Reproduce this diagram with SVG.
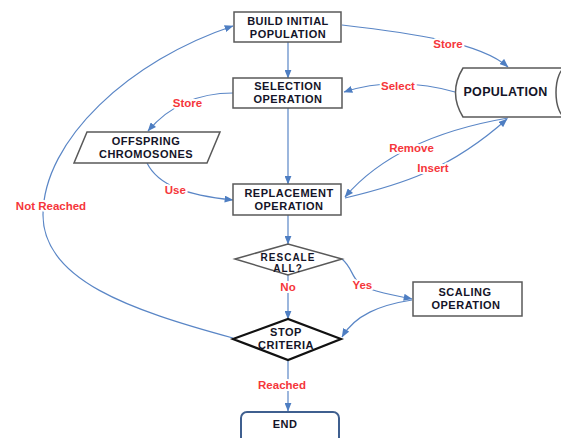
<svg xmlns="http://www.w3.org/2000/svg" width="561" height="438" viewBox="0 0 561 438">
<style>
.box{fill:#fff;stroke:#595959;stroke-width:1.5}
.t{font-family:"Liberation Sans",Arial,sans-serif;font-weight:bold;font-size:11px;letter-spacing:0.5px;fill:#141428;text-anchor:middle}
.c{fill:none;stroke:#5A86C6;stroke-width:1.2}
.lbl{font-family:"Liberation Sans",Arial,sans-serif;font-weight:bold;font-size:11.5px;fill:#F5363B;text-anchor:middle;stroke:#fff;stroke-width:4;paint-order:stroke;stroke-linejoin:round}
</style>
<defs>
<marker id="ah" viewBox="0 0 10 8" refX="9.5" refY="4" markerWidth="9" markerHeight="7" markerUnits="userSpaceOnUse" orient="auto">
<path d="M0,0 L10,4 L0,8 z" fill="#4E7EC2"/>
</marker>
</defs>
<rect width="561" height="438" fill="#fff"/>

<g id="connectors">
<path class="c" d="M288,42 V78" marker-end="url(#ah)"/>
<path class="c" d="M288,108 V184" marker-end="url(#ah)"/>
<path class="c" d="M288,215 V244" marker-end="url(#ah)"/>
<path class="c" d="M288,275 V319" marker-end="url(#ah)"/>
<path class="c" d="M288,360 V411" marker-end="url(#ah)"/>
<path class="c" d="M342,25 C410,33 480,42 508,67" marker-end="url(#ah)"/>
<path class="c" d="M455,92 C420,82 380,80 344,92" marker-end="url(#ah)"/>
<path class="c" d="M233,93 C200,93 170,105 148,131" marker-end="url(#ah)"/>
<path class="c" d="M147,163 C158,185 185,195 233,200" marker-end="url(#ah)"/>
<path class="c" d="M508,118 C450,128 385,150 345,197" marker-end="url(#ah)"/>
<path class="c" d="M345,198 C400,185 450,170 507,119" marker-end="url(#ah)"/>
<path class="c" d="M233,338 C130,310 43,280 43,215 C43,140 130,60 233,26" marker-end="url(#ah)"/>
<path class="c" d="M342,259 C355,270 350,282 370,289 C385,294 398,296 412,299" marker-end="url(#ah)"/>
<path class="c" d="M412,300 C380,305 355,315 342,337" marker-end="url(#ah)"/>
<text class="lbl" x="448" y="48.3">Store</text>
<text class="lbl" x="398" y="90">Select</text>
<text class="lbl" x="411.5" y="151.5">Remove</text>
<text class="lbl" x="433" y="172">Insert</text>
<text class="lbl" x="187.5" y="106.5">Store</text>
<text class="lbl" x="175.3" y="194">Use</text>
<text class="lbl" x="51" y="210">Not Reached</text>
<text class="lbl" x="288" y="291">No</text>
<text class="lbl" x="362.3" y="288.5">Yes</text>
<text class="lbl" x="282" y="388.5">Reached</text>
</g>

<g id="build">
<rect class="box" x="234" y="12" width="107" height="30"/>
<text class="t" x="288" y="25">BUILD INITIAL</text>
<text class="t" x="288" y="38">POPULATION</text>
</g>

<g id="selection">
<rect class="box" x="233" y="78" width="109" height="30"/>
<text class="t" x="288" y="90">SELECTION</text>
<text class="t" x="288" y="103">OPERATION</text>
</g>

<g id="population">
<path class="box" d="M463,68 H575 V117 H463 Q448,92.5 463,68 Z"/>
<ellipse cx="566" cy="92.5" rx="10" ry="24.5" fill="none" stroke="#595959" stroke-width="1.5"/>
<text class="t" x="505.5" y="95.5" style="font-size:12.5px;letter-spacing:0.3px">POPULATION</text>
</g>

<g id="offspring">
<polygon class="box" points="87,132 220,132 207,163 74,163"/>
<text class="t" x="146" y="145">OFFSPRING</text>
<text class="t" x="146" y="158">CHROMOSONES</text>
</g>

<g id="replacement">
<rect class="box" x="233" y="184" width="108" height="31"/>
<text class="t" x="289" y="197">REPLACEMENT</text>
<text class="t" x="289" y="210">OPERATION</text>
</g>

<g id="rescale">
<polygon class="box" points="235,259 288,244 342,259 288,275"/>
<text class="t" x="288" y="260.5" style="font-size:10px;letter-spacing:1px">RESCALE</text>
<text class="t" x="288" y="272" style="font-size:10px;letter-spacing:1px">ALL?</text>
</g>

<g id="scaling">
<rect class="box" x="413" y="282" width="109" height="34"/>
<text class="t" x="465" y="296">SCALING</text>
<text class="t" x="466" y="309">OPERATION</text>
</g>

<g id="stop">
<polygon points="233,339 288,319 341,339 288,360" fill="#fff" stroke="#111" stroke-width="2.2"/>
<text class="t" x="286" y="336">STOP</text>
<text class="t" x="286" y="349">CRITERIA</text>
</g>

<g id="end">
<rect x="241" y="412" width="98" height="34" rx="6" fill="#fff" stroke="#3F5F8F" stroke-width="2"/>
<text class="t" x="285" y="428.3">END</text>
</g>
</svg>
